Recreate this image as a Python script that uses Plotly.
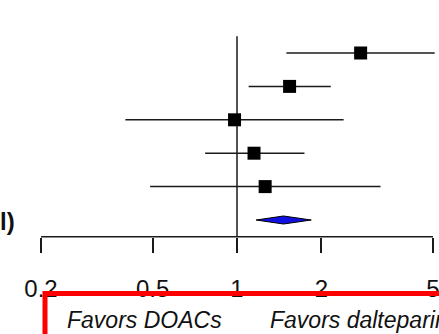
import plotly.graph_objects as go
import math

# Data (ratio estimates and 95% CI)
rows = [1, 2, 3, 4, 5]
est = [2.76, 1.54, 0.98, 1.15, 1.26]
lo = [1.50, 1.10, 0.40, 0.77, 0.49]
hi = [5.07, 2.16, 2.40, 1.74, 3.25]
pooled_row = 6
pooled_est = 1.465
pooled_lo = 1.17
pooled_hi = 1.84
tick_vals = [0.2, 0.5, 1, 2, 5]
tick_text = ["0.2", "0.5", "1", "2", "5"]
axis_row = 6.5
ref_top = 0.5
left_label = "l)"
favor_left = "Favors DOACs"
favor_right = "Favors dalteparin"

W, H = 439, 334
LINE = "#1a1a1a"

fig = go.Figure()

# reference line at 1
fig.add_trace(go.Scatter(x=[1, 1], y=[ref_top, axis_row], mode="lines",
                         line=dict(color=LINE, width=1.5), hoverinfo="skip"))

# CI lines
cx, cy = [], []
for r, a, b in zip(rows, lo, hi):
    cx += [a, b, None]
    cy += [r, r, None]
fig.add_trace(go.Scatter(x=cx, y=cy, mode="lines",
                         line=dict(color=LINE, width=1.5), hoverinfo="skip"))

# point estimates
fig.add_trace(go.Scatter(x=est, y=rows, mode="markers",
                         marker=dict(symbol="square", size=13, color="black",
                                     line=dict(width=0))))

# pooled diamond
h = 0.12
fig.add_trace(go.Scatter(
    x=[pooled_lo, pooled_est, pooled_hi, pooled_est, pooled_lo],
    y=[pooled_row, pooled_row - h, pooled_row, pooled_row + h, pooled_row],
    mode="lines", fill="toself", fillcolor="#1010e0",
    line=dict(color="black", width=1), hoverinfo="skip"))

# axis line from first to last tick
fig.add_trace(go.Scatter(x=[tick_vals[0], tick_vals[-1]], y=[axis_row, axis_row],
                         mode="lines", line=dict(color=LINE, width=1.5),
                         hoverinfo="skip"))

# pixel mapping: 0.2 at x=41, 5 at x=433 ; rows spaced 33.4 px, row1 at y=53
px_per_dec = (433 - 41) / (math.log10(5) - math.log10(0.2))
x0 = math.log10(0.2) - 41 / px_per_dec
x1 = math.log10(0.2) + (W - 41) / px_per_dec
row_px = 33.4
y_top = 1 - 53 / row_px
y_bot = 1 + (H - 53) / row_px
axis_px = 53 + (axis_row - 1) * row_px

fig.update_layout(
    width=W, height=H,
    margin=dict(l=0, r=0, t=0, b=0),
    paper_bgcolor="white", plot_bgcolor="white",
    showlegend=False,
    font=dict(family="Liberation Sans, Arial, sans-serif", color="#111"),
    xaxis=dict(type="log", range=[x0, x1], domain=[0, 1],
               anchor="free", position=1 - axis_px / H,
               showgrid=False, zeroline=False, showline=False,
               tickvals=tick_vals, ticktext=tick_text,
               ticks="outside", ticklen=15, tickwidth=1.5, tickcolor=LINE,
               tickfont=dict(size=24, color="#111"), ticklabelstandoff=15,
               ticklabeloverflow="allow"),
    yaxis=dict(range=[y_bot, y_top], visible=False, domain=[0, 1]),
)

fig.add_annotation(x=0, y=1 - 221 / H, xref="paper", yref="paper",
                   text="<b>" + left_label + "</b>", showarrow=False,
                   xanchor="left", yanchor="middle", xshift=-2,
                   font=dict(size=24, color="#111"))

fig.add_annotation(x=224 / W, y=1 - 320 / H, xref="paper", yref="paper",
                   text="<i>" + favor_left + "</i>", showarrow=False,
                   xanchor="right", yanchor="middle",
                   font=dict(size=23, color="#111"))
fig.add_annotation(x=268 / W, y=1 - 320 / H, xref="paper", yref="paper",
                   text="<i>" + favor_right + "</i>", showarrow=False,
                   xanchor="left", yanchor="middle",
                   font=dict(size=23, color="#111"))

# red highlight box
fig.add_shape(type="rect", xref="paper", yref="paper",
              x0=45 / W, x1=1.2, y0=-0.2, y1=1 - 293.5 / H,
              line=dict(color="#ff0000", width=5), layer="above")

fig.write_html("out.html")
